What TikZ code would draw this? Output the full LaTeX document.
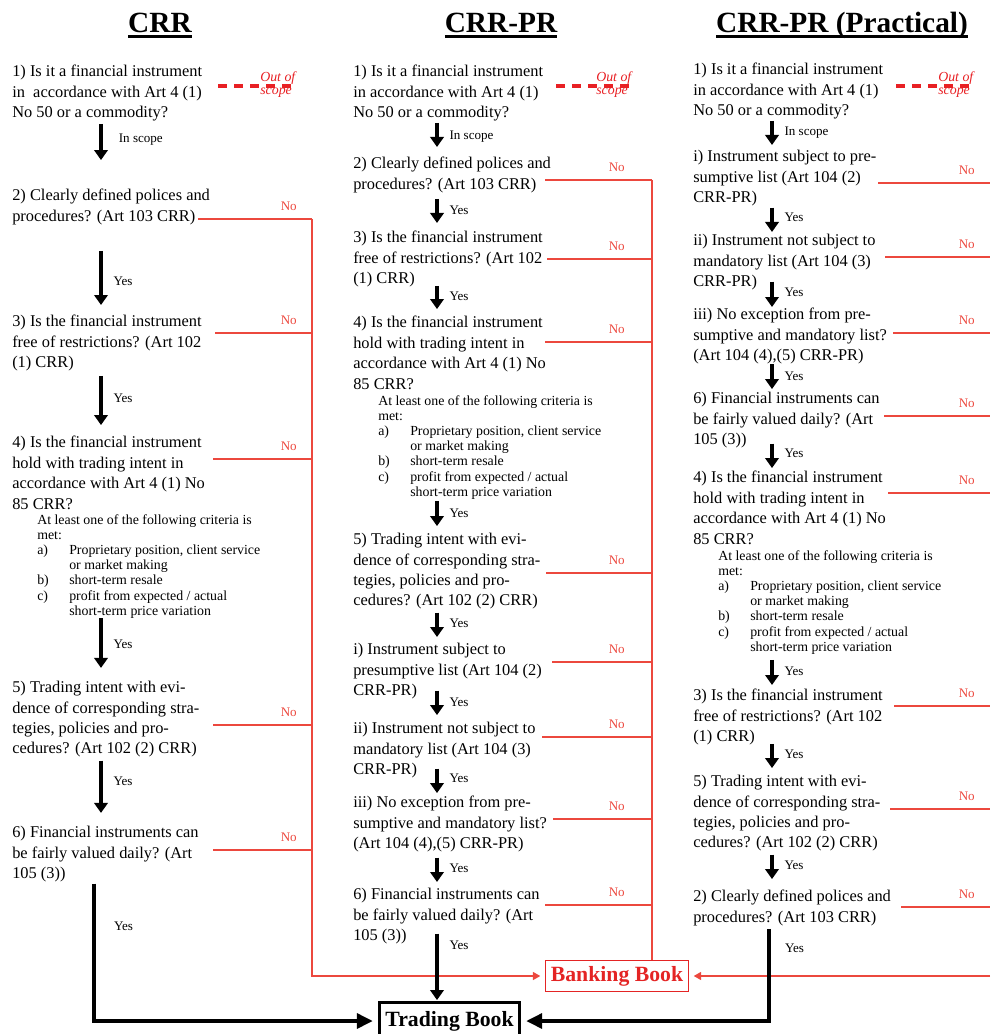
\documentclass[tikz,border=0pt]{standalone}
\usepackage{fontspec}
\setmainfont{Liberation Serif}
\usetikzlibrary{arrows.meta}

\definecolor{nored}{RGB}{236,72,62}
\definecolor{scopered}{RGB}{232,32,36}
\definecolor{bookred}{RGB}{228,36,36}

\newsavebox{\ttlbox}
\newcommand{\ttlul}[1]{\sbox{\ttlbox}{#1}\rlap{\rule[-3.4pt]{\wd\ttlbox}{1.6pt}}\usebox{\ttlbox}}

\newcommand{\critem}[1]{\makebox[24pt][l]{#1}}
\newcommand{\critlist}{At least one of the following criteria is\\
  met:\\
  \critem{a)}Proprietary position, client service\\
  \critem{}or market making\\
  \critem{b)}short-term resale\\
  \critem{c)}profit from expected / actual\\
  \critem{}short-term price variation}

\begin{document}
\begin{tikzpicture}[
    x=0.75pt, y=0.75pt,
    title/.style={anchor=base, inner sep=0pt, font=\fontsize{22}{26}\selectfont\bfseries},
    quest/.style={anchor=north west, align=left, inner sep=0pt, font=\fontsize{12.3}{15.3}\selectfont},
    crit/.style={anchor=north west, align=left, inner sep=0pt, font=\fontsize{10.4}{11.4}\selectfont},
    yes/.style={-{Triangle[length=7.5pt, width=10pt]}, line width=2.8pt, shorten <=1pt, shorten >=5pt},
    final/.style={-{Triangle[length=12pt, width=11pt]}, line width=3pt},
    lbl/.style={right=8pt, inner sep=0pt, font=\fontsize{9.8}{11}\selectfont},
    no/.style={draw=nored, line width=0.9pt},
    noarr/.style={no, -{Triangle[length=5.5pt, width=6pt]}, shorten >=3.5pt},
    nolbl/.style={pos=1, anchor=south east, inner sep=0pt, xshift=#1, yshift=5.5pt, text=nored, font=\fontsize{9.8}{11}\selectfont},
    nolbl/.default=-11pt,
    oos/.style={anchor=west, align=left, inner sep=0pt, text=scopered, font=\fontsize{10.4}{10}\selectfont\itshape},
    oosline/.style={draw=scopered, line width=3pt, dash pattern=on 6.4pt off 5.6pt},
    book/.style={draw, inner sep=0pt, font=\fontsize{16.3}{18}\selectfont\bfseries}
]
    \useasboundingbox (0,0) rectangle (990,-1034);

    % Titles
    \node[title] (ttlcrr) at (160,-33) {\ttlul{CRR}};
    \node[title] (ttlpr) at (501,-33) {\ttlul{CRR-PR}};
    \node[title] (ttlpx) at (842,-33) {\ttlul{CRR-PR (Practical)}};

    % Arrow columns and red buses
    \coordinate (xA) at (101,0);
    \coordinate (xAf) at (94,0);
    \coordinate (busA) at (312,0);
    \coordinate (xB) at (437,0);
    \coordinate (busB) at (652,0);
    \coordinate (xC) at (772,0);
    \coordinate (xCf) at (769,0);
    \coordinate (edgeC) at (990,0);

    % CRR
    \node[quest] (crr1) at (12,-65) {1) Is it a financial instrument\\in~ accordance with Art 4 (1)\\No 50 or a commodity?};
    \node[quest] (crr2) at (12,-189) {2) Clearly defined polices and\\procedures? (Art 103 CRR)};
    \node[quest] (crr3) at (12,-315) {3) Is the financial instrument\\free of restrictions? (Art 102\\(1) CRR)};
    \node[quest] (crr4) at (12,-436) {4) Is the financial instrument\\hold with trading intent in\\accordance with Art 4 (1) No\\85 CRR?};
    \node[crit] (crr4c) at (37,-514) {\critlist};
    \node[quest] (crr5) at (12,-681) {5) Trading intent with evi-\\dence of corresponding stra-\\tegies, policies and pro-\\cedures? (Art 102 (2) CRR)};
    \node[quest] (crr6) at (12,-826) {6) Financial instruments can\\be fairly valued daily? (Art\\105 (3))};

    % CRR-PR
    \node[quest] (pr1) at (353,-65) {1) Is it a financial instrument\\in accordance with Art 4 (1)\\No 50 or a commodity?};
    \node[quest] (pr2) at (353,-157) {2) Clearly defined polices and\\procedures? (Art 103 CRR)};
    \node[quest] (pr3) at (353,-231) {3) Is the financial instrument\\free of restrictions? (Art 102\\(1) CRR)};
    \node[quest] (pr4) at (353,-316) {4) Is the financial instrument\\hold with trading intent in\\accordance with Art 4 (1) No\\85 CRR?};
    \node[crit] (pr4c) at (378,-395) {\critlist};
    \node[quest] (pr5) at (353,-533) {5) Trading intent with evi-\\dence of corresponding stra-\\tegies, policies and pro-\\cedures? (Art 102 (2) CRR)};
    \node[quest] (prI) at (353,-643) {i) Instrument subject to\\presumptive list (Art 104 (2)\\CRR-PR)};
    \node[quest] (prII) at (353,-722) {ii) Instrument not subject to\\mandatory list (Art 104 (3)\\CRR-PR)};
    \node[quest] (prIII) at (353,-796) {iii) No exception from pre-\\sumptive and mandatory list?\\(Art 104 (4),(5) CRR-PR)};
    \node[quest] (pr6) at (353,-888) {6) Financial instruments can\\be fairly valued daily? (Art\\105 (3))};

    % CRR-PR (Practical)
    \node[quest] (px1) at (693,-63) {1) Is it a financial instrument\\in accordance with Art 4 (1)\\No 50 or a commodity?};
    \node[quest] (pxI) at (693,-150) {i) Instrument subject to pre-\\sumptive list (Art 104 (2)\\CRR-PR)};
    \node[quest] (pxII) at (693,-234) {ii) Instrument not subject to\\mandatory list (Art 104 (3)\\CRR-PR)};
    \node[quest] (pxIII) at (693,-308) {iii) No exception from pre-\\sumptive and mandatory list?\\(Art 104 (4),(5) CRR-PR)};
    \node[quest] (px6) at (693,-392) {6) Financial instruments can\\be fairly valued daily? (Art\\105 (3))};
    \node[quest] (px4) at (693,-471) {4) Is the financial instrument\\hold with trading intent in\\accordance with Art 4 (1) No\\85 CRR?};
    \node[crit] (px4c) at (718,-550) {\critlist};
    \node[quest] (px3) at (693,-689) {3) Is the financial instrument\\free of restrictions? (Art 102\\(1) CRR)};
    \node[quest] (px5) at (693,-775) {5) Trading intent with evi-\\dence of corresponding stra-\\tegies, policies and pro-\\cedures? (Art 102 (2) CRR)};
    \node[quest] (px2) at (693,-890) {2) Clearly defined polices and\\procedures? (Art 103 CRR)};

    % Books
    \node[book, draw=bookred, text=bookred, line width=1.1pt, minimum width=107pt, minimum height=23pt] (bank) at (617,-976) {Banking Book};
    \node[book, line width=2.4pt, minimum width=105pt, minimum height=27.5pt] (trade) at (449.5,-1021) {Trading Book};

    % Out of scope
    \coordinate (crr1os) at (218,-86);
    \node[oos] (crrOut) at (260,-84.5) {Out of\\scope};
    \draw[oosline] (crr1os) -- (crr1os -| crrOut.east);
    \coordinate (pr1os) at (556,-86);
    \node[oos] (prOut) at (596,-84.5) {Out of\\scope};
    \draw[oosline] (pr1os) -- (pr1os -| prOut.east);
    \coordinate (px1os) at (896,-86);
    \node[oos] (pxOut) at (938,-84.5) {Out of\\scope};
    \draw[oosline] (px1os) -- (px1os -| pxOut.east);

    % No branches, CRR
    \coordinate (crr2no) at (198,-219);
    \coordinate (crr3no) at (215,-333);
    \coordinate (crr4no) at (213,-459);
    \coordinate (crr5no) at (213,-725);
    \coordinate (crr6no) at (213,-850);
    \draw[noarr] (crr2no -| busA) |- (bank.west);
    \draw[no] (crr2no) -- node[nolbl]{No} (crr2no -| busA);
    \draw[no] (crr3no) -- node[nolbl]{No} (crr3no -| busA);
    \draw[no] (crr4no) -- node[nolbl]{No} (crr4no -| busA);
    \draw[no] (crr5no) -- node[nolbl]{No} (crr5no -| busA);
    \draw[no] (crr6no) -- node[nolbl]{No} (crr6no -| busA);

    % No branches, CRR-PR
    \coordinate (pr2no) at (545,-180);
    \coordinate (pr3no) at (547,-259);
    \coordinate (pr4no) at (545,-342);
    \coordinate (pr5no) at (546,-573);
    \coordinate (prIno) at (552,-662);
    \coordinate (prIIno) at (542,-737);
    \coordinate (prIIIno) at (553,-819);
    \coordinate (pr6no) at (545,-905);
    \draw[no] (pr2no -| busB) -- (bank.north -| busB);
    \draw[no] (pr2no) -- node[nolbl=-20pt]{No} (pr2no -| busB);
    \draw[no] (pr3no) -- node[nolbl=-20pt]{No} (pr3no -| busB);
    \draw[no] (pr4no) -- node[nolbl=-20pt]{No} (pr4no -| busB);
    \draw[no] (pr5no) -- node[nolbl=-20pt]{No} (pr5no -| busB);
    \draw[no] (prIno) -- node[nolbl=-20pt]{No} (prIno -| busB);
    \draw[no] (prIIno) -- node[nolbl=-20pt]{No} (prIIno -| busB);
    \draw[no] (prIIIno) -- node[nolbl=-20pt]{No} (prIIIno -| busB);
    \draw[no] (pr6no) -- node[nolbl=-20pt]{No} (pr6no -| busB);

    % No branches, CRR-PR (Practical)
    \coordinate (pxIno) at (878,-183);
    \coordinate (pxIIno) at (885,-257);
    \coordinate (pxIIIno) at (893,-333);
    \coordinate (px6no) at (884,-416);
    \coordinate (px4no) at (888,-493);
    \coordinate (px3no) at (894,-706);
    \coordinate (px5no) at (890,-809);
    \coordinate (px2no) at (901,-907);
    \draw[noarr] (bank.east -| edgeC) -- (bank.east);
    \draw[no] (pxIno) -- node[nolbl]{No} (pxIno -| edgeC);
    \draw[no] (pxIIno) -- node[nolbl]{No} (pxIIno -| edgeC);
    \draw[no] (pxIIIno) -- node[nolbl]{No} (pxIIIno -| edgeC);
    \draw[no] (px6no) -- node[nolbl]{No} (px6no -| edgeC);
    \draw[no] (px4no) -- node[nolbl]{No} (px4no -| edgeC);
    \draw[no] (px3no) -- node[nolbl]{No} (px3no -| edgeC);
    \draw[no] (px5no) -- node[nolbl]{No} (px5no -| edgeC);
    \draw[no] (px2no) -- node[nolbl]{No} (px2no -| edgeC);

    % Yes arrows, CRR
    \draw[yes, shorten <=1.8pt, shorten >=21.7pt] (crr1.south -| xA) -- node[lbl, pos=0.27, right=4pt]{In scope} (crr2.north -| xA);
    \draw[yes, shorten <=19.5pt, shorten >=7.5pt] (crr2.south -| xA) -- node[lbl, pos=0.62]{Yes} (crr3.north -| xA);
    \draw[yes, shorten <=3.3pt, shorten >=8.2pt] (crr3.south -| xA) -- node[lbl, pos=0.42]{Yes} (crr4.north -| xA);
    \draw[yes, shorten <=0pt, shorten >=9.8pt] (crr4c.south -| xA) -- node[lbl, pos=0.42]{Yes} (crr5.north -| xA);
    \draw[yes, shorten <=2.3pt, shorten >=9.8pt] (crr5.south -| xA) -- node[lbl, pos=0.35]{Yes} (crr6.north -| xA);
    \draw[final, shorten <=1pt, shorten >=3.75pt] (crr6.south -| xAf) |- node[lbl, pos=0.158, right=5.5pt]{Yes} (trade.west);

    % Yes arrows, CRR-PR
    \draw[yes, shorten >=7.5pt] (pr1.south -| xB) -- node[lbl, pos=0.42]{In scope} (pr2.north -| xB);
    \draw[yes, shorten <=4.5pt, shorten >=6pt] (pr2.south -| xB) -- node[lbl, pos=0.45]{Yes} (pr3.north -| xB);
    \draw[yes, shorten <=-1.2pt, shorten >=5.2pt] (pr3.south -| xB) -- node[lbl, pos=0.32]{Yes} (pr4.north -| xB);
    \draw[yes, shorten >=5.2pt] (pr4c.south -| xB) -- node[lbl, pos=0.42]{Yes} (pr5.north -| xB);
    \draw[yes, shorten <=2.2pt, shorten >=4.5pt] (pr5.south -| xB) -- node[lbl, pos=0.41]{Yes} (prI.north -| xB);
    \draw[yes, shorten <=-6.5pt, shorten >=5.2pt] (prI.south -| xB) -- node[lbl, pos=0.15]{Yes} (prII.north -| xB);
    \draw[yes, shorten <=-7.2pt, shorten >=2.2pt] (prII.south -| xB) -- node[lbl, pos=0.02]{Yes} (prIII.north -| xB);
    \draw[yes, shorten <=4pt, shorten >=4.5pt] (prIII.south -| xB) -- node[lbl, pos=0.45]{Yes} (pr6.north -| xB);
    \draw[yes, shorten <=-8pt, shorten >=0.75pt] (pr6.south -| xB) -- node[lbl, pos=0.02]{Yes} (trade.north -| xB);

    % Yes arrows, CRR-PR (Practical)
    \draw[yes, shorten >=3.75pt] (px1.south -| xC) -- node[lbl, pos=0.43]{In scope} (pxI.north -| xC);
    \draw[yes, shorten >=1.5pt] (pxI.south -| xC) -- node[lbl, pos=0.40]{Yes} (pxII.north -| xC);
    \draw[yes, shorten <=-6.5pt, shorten >=0.75pt] (pxII.south -| xC) -- node[lbl, pos=0.13]{Yes} (pxIII.north -| xC);
    \draw[yes, shorten <=0pt, shorten >=2.2pt] (pxIII.south -| xC) -- node[lbl, pos=0.44]{Yes} (px6.north -| xC);
    \draw[yes, shorten <=-3.5pt, shorten >=2.2pt] (px6.south -| xC) -- node[lbl, pos=0.23]{Yes} (px4.north -| xC);
    \draw[yes, shorten <=4pt, shorten >=3pt] (px4c.south -| xC) -- node[lbl, pos=0.49]{Yes} (px3.north -| xC);
    \draw[yes, shorten <=-1.2pt, shorten >=5.2pt] (px3.south -| xC) -- node[lbl, pos=0.31]{Yes} (px5.north -| xC);
    \draw[yes, shorten <=2.2pt, shorten >=8.2pt] (px5.south -| xC) -- node[lbl, pos=0.36]{Yes} (px2.north -| xC);
    \draw[final, shorten <=2.2pt, shorten >=3.75pt] (px2.south -| xCf) |- node[lbl, pos=0.117, right=2.5pt]{Yes} (trade.east);
\end{tikzpicture}
\end{document}
